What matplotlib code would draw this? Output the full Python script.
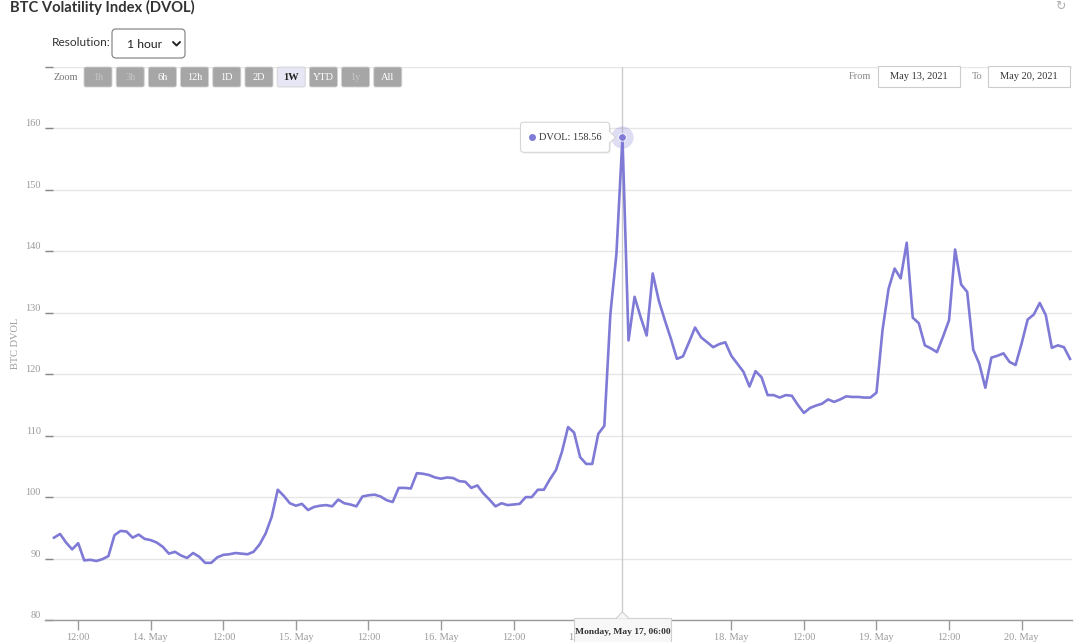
import matplotlib
matplotlib.use("Agg")
import matplotlib.pyplot as plt
from matplotlib.patches import FancyBboxPatch, Polygon, Rectangle
from matplotlib.transforms import Bbox
from datetime import datetime, timedelta
import numpy as np

# ---------------- data ----------------
series_name = "DVOL"
start_time = datetime(2021, 5, 13, 8, 0)   # first hourly observation
dvol = [
    93.4, 94.0, 92.6, 91.5, 92.5, 89.7, 89.8, 89.6, 89.9, 90.4,
    93.8, 94.5, 94.4, 93.4, 93.9, 93.2, 93.0, 92.6, 91.9, 90.8,
    91.1, 90.5, 90.1, 90.9, 90.3, 89.3, 89.3, 90.2, 90.6,
    90.7, 90.9, 90.8, 90.7, 91.1, 92.3, 94.1, 96.8, 101.2, 100.2,
    99.0, 98.6, 98.9, 97.9, 98.4, 98.6, 98.7, 98.5, 99.6, 99.0,
    98.8, 98.5, 100.1, 100.3, 100.4, 100.1, 99.5, 99.2, 101.5,
    101.5, 101.4, 103.9, 103.8, 103.6, 103.2, 103.0, 103.2, 103.1, 102.6,
    102.5, 101.5, 101.9, 100.6, 99.6, 98.5, 99.0, 98.7, 98.8, 98.9,
    100.0, 100.0, 101.2, 101.2, 102.9, 104.4, 107.4, 111.4,
    110.5, 106.5, 105.4, 105.4, 110.3, 111.6, 129.8, 139.6, 158.56, 125.5,
    132.6, 129.3, 126.3, 136.4, 132.0, 128.8, 125.8, 122.5, 122.9, 125.2,
    127.6, 126.0, 125.2, 124.4, 124.9, 125.2, 123.0, 121.7,
    120.4, 118.0, 120.5, 119.5, 116.6, 116.6, 116.2, 116.6, 116.5, 115.0,
    113.7, 114.5, 114.9, 115.2, 115.9, 115.5, 115.9, 116.4, 116.3, 116.3,
    116.2, 116.2, 117.0, 127.2, 133.9, 137.2, 135.6, 141.4,
    129.2, 128.3, 124.7, 124.2, 123.6, 126.1, 128.8, 140.3, 134.6, 133.4,
    124.0, 121.7, 117.8, 122.7, 123.0, 123.4, 122.0, 121.5, 125.0, 128.9,
    129.7, 131.6, 129.6, 124.3, 124.7, 124.4, 122.5,
]
y_ticks = [80, 90, 100, 110, 120, 130, 140, 150, 160, 170]
y_labels_shown = [80, 90, 100, 110, 120, 130, 140, 150, 160]
zoom_buttons = ["1h", "3h", "6h", "12h", "1D", "2D", "1W", "YTD", "1y", "All"]
disabled_buttons = ["1h", "3h", "1y"]
active_button = "1W"
resolution = "1 hour"

# ---------------- derived ----------------
base = datetime(2021, 5, 13)
hours = np.array([(start_time - base).total_seconds() / 3600 + i for i in range(len(dvol))])
x_tick_hours = list(range(12, 169, 12))
def tick_label(h):
    d = base + timedelta(hours=h)
    return f"{d.day}. {d.strftime('%b')}" if d.hour == 0 else d.strftime("%H:%M")
x_tick_labels = [tick_label(h) for h in x_tick_hours]

W, H = 1080, 642
LINE = "#7f7ad6"
fig = plt.figure(figsize=(W / 100, H / 100), dpi=100)
fig.patch.set_facecolor("white")

L, R, T, B = 45, 1072, 67, 620
ax = fig.add_axes([L / W, 1 - B / H, (R - L) / W, (B - T) / H])
ax.set_facecolor("white")
ax.set_ylim(80, 170)
px_per_h = (1070 - 54) / (hours[-1] - hours[0])
ax.set_xlim(hours[0] - (54 - L) / px_per_h, hours[-1] + (R - 1070) / px_per_h)

for s in ["top", "right", "left"]:
    ax.spines[s].set_visible(False)
ax.spines["bottom"].set_color("#9a9a9a")
ax.spines["bottom"].set_linewidth(1.0)

ax.set_yticks(y_ticks)
ax.set_yticklabels([str(v) if v in y_labels_shown else "" for v in y_ticks])
ax.tick_params(axis="y", direction="in", length=6, width=1.0, color="#888888",
               pad=3, labelsize=7.5, labelcolor="#9a9a9a")
for lab in ax.get_yticklabels():
    lab.set_family("Liberation Serif")
    lab.set_verticalalignment("bottom")
ax.yaxis.grid(True, color="#e6e6e6", lw=1.0)
ax.set_axisbelow(True)

ax.set_xticks(x_tick_hours)
ax.set_xticklabels(x_tick_labels)
ax.tick_params(axis="x", direction="out", length=7, width=1.0, color="#9a9a9a",
               pad=2, labelsize=7.5, labelcolor="#9a9a9a")
for lab in ax.get_xticklabels():
    lab.set_family("Liberation Serif")

ax.plot(hours, dvol, color=LINE, lw=1.9, solid_joinstyle="round", zorder=3)

# hovered point
i_peak = int(np.argmax(dvol))
ph, pv = hours[i_peak], dvol[i_peak]
ax.axvline(ph, color="#cccccc", lw=1.0, zorder=2)
ax.plot([ph], [pv], "o", ms=16, color=LINE, alpha=0.25, mec="none", zorder=4, clip_on=False)
ax.plot([ph], [pv], "o", ms=5.5, color=LINE, mec="white", mew=0.6, zorder=5, clip_on=False)

ax.text(-0.029, 0.5, "BTC DVOL", transform=ax.transAxes, rotation=90,
        ha="center", va="center", fontsize=7.5, color="#9a9a9a", family="Liberation Serif")

# ---------------- overlay in pixel coords ----------------
ov = fig.add_axes([0, 0, 1, 1], zorder=10)
ov.set_xlim(0, W)
ov.set_ylim(H, 0)
ov.axis("off")
ov.patch.set_alpha(0)

fig.canvas.draw()
dx, dy = ax.transData.transform((ph, pv))
px_, py_ = dx, H - dy

# clip the x tick labels that sit beneath the x-axis tooltip box
box_left, box_right = px_ - 48, px_ + 49
for lab, h in zip(ax.get_xticklabels(), x_tick_hours):
    lx = ax.transData.transform((h, 80))[0]
    if box_left - 20 < lx < box_right + 20:
        if lx < px_:
            lab.set_clip_box(Bbox([[0, 0], [box_left, H]]))
        else:
            lab.set_clip_box(Bbox([[box_right, 0], [W, H]]))
        lab.set_clip_on(True)

ov.text(10, 12, "BTC Volatility Index (DVOL)", fontsize=10.6, fontweight="bold",
        family="Lato", color="#333333", va="baseline", ha="left")
ov.text(1060, 6, "\u21bb", fontsize=9, color="#b0b0b0", ha="center", va="center", family="DejaVu Sans")

ov.text(52, 43, "Resolution:", fontsize=8.6, family="Lato", color="#333333", va="center", ha="left")
ov.add_patch(FancyBboxPatch((112, 29), 73, 29, boxstyle="round,pad=0,rounding_size=4",
                            fc="white", ec="#8a8a8a", lw=0.9))
ov.text(127, 44, resolution, fontsize=8.8, family="Lato", color="#222222", va="center", ha="left")
ov.plot([173, 176.5, 180], [42, 45.5, 42], color="#222222", lw=1.4, solid_capstyle="round")

ov.text(54, 77, "Zoom", fontsize=7.5, family="Liberation Serif", color="#777777", va="center", ha="left")
bx0, bstep, bw, bh, by = 84, 32.2, 28, 20, 67
for k, name in enumerate(zoom_buttons):
    x0 = bx0 + k * bstep
    if name == active_button:
        fc, tc, fw = "#e6e6f5", "#222222", "bold"
    elif name in disabled_buttons:
        fc, tc, fw = "#a6a6a6", "#c6c6c6", "normal"
    else:
        fc, tc, fw = "#a6a6a6", "#ffffff", "normal"
    ov.add_patch(FancyBboxPatch((x0, by), bw, bh, boxstyle="round,pad=0,rounding_size=2",
                                fc=fc, ec="#d0d0d0", lw=0.6))
    ov.text(x0 + bw / 2, by + bh / 2 + 0.5, name, fontsize=7.5, family="Liberation Serif",
            color=tc, ha="center", va="center", fontweight=fw)

start_str = (base + timedelta(hours=float(hours[0]))).strftime("%b %d, %Y").replace(" 0", " ")
end_str = (base + timedelta(hours=float(hours[-1]))).strftime("%b %d, %Y").replace(" 0", " ")
ov.text(860, 76.5, "From", fontsize=7.5, family="Liberation Serif", color="#888888", ha="center", va="center")
ov.add_patch(Rectangle((878, 66), 82, 21, fc="white", ec="#cccccc", lw=0.8))
ov.text(919, 76.5, start_str, fontsize=7.5, family="Liberation Serif", color="#333333", ha="center", va="center")
ov.text(977, 76.5, "To", fontsize=7.5, family="Liberation Serif", color="#888888", ha="center", va="center")
ov.add_patch(Rectangle((988, 66), 82, 21, fc="white", ec="#cccccc", lw=0.8))
ov.text(1029, 76.5, end_str, fontsize=7.5, family="Liberation Serif", color="#333333", ha="center", va="center")

# tooltip near the point
tx1 = px_ - 13
tx0 = tx1 - 89
ty0, ty1 = py_ - 15, py_ + 15
ov.add_patch(FancyBboxPatch((tx0 + 1.5, ty0 + 1.5), tx1 - tx0, ty1 - ty0,
                            boxstyle="round,pad=0,rounding_size=3", fc="#000000", alpha=0.06, ec="none"))
ov.add_patch(FancyBboxPatch((tx0, ty0), tx1 - tx0, ty1 - ty0,
                            boxstyle="round,pad=0,rounding_size=3", fc="white", ec="#d6d6d6", lw=0.8))
ov.add_patch(Polygon([[tx1 - 0.6, py_ - 6], [tx1 + 6, py_], [tx1 - 0.6, py_ + 6]], closed=True,
                     fc="white", ec="none"))
ov.plot([tx1, tx1 + 6, tx1], [py_ - 6, py_, py_ + 6], color="#d6d6d6", lw=0.8)
ov.plot([tx0 + 12], [py_], "o", ms=5, color=LINE, mec="none")
ov.text(tx0 + 19, py_, f"{series_name}: {pv:.2f}", fontsize=7.5, family="Liberation Serif",
        color="#333333", ha="left", va="center")

# x-axis tooltip
peak_time = base + timedelta(hours=float(ph))
xt_label = peak_time.strftime("%A, %b %d, %H:%M")
ov.add_patch(Rectangle((box_left, B - 2), box_right - box_left, 30, fc="#f7f7f7", ec="#d0d0d0", lw=0.8))
ov.add_patch(Polygon([[px_ - 6, B - 2 + 0.6], [px_, B - 8], [px_ + 6, B - 2 + 0.6]], closed=True,
                     fc="#f7f7f7", ec="none"))
ov.plot([px_ - 6, px_, px_ + 6], [B - 2, B - 8, B - 2], color="#d0d0d0", lw=0.8)
ov.text((box_left + box_right) / 2, B + 12, xt_label, fontsize=6.8, family="Liberation Serif",
        color="#333333", ha="center", va="center", fontweight="bold")

fig.savefig("out.png", dpi=100, facecolor="white")
